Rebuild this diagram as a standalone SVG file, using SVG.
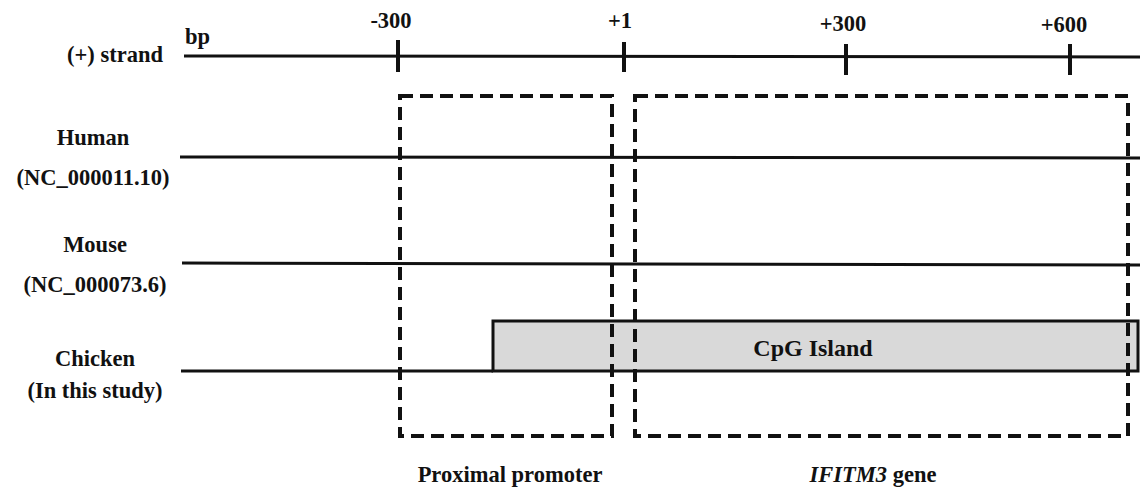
<svg xmlns="http://www.w3.org/2000/svg" width="1140" height="490" viewBox="0 0 1140 490">
<style>
text{font-family:"Liberation Serif","Times New Roman",serif;font-weight:bold;font-size:22.5px;fill:#111}
.c{text-anchor:middle}
.ln{stroke:#111;stroke-width:3;fill:none}
.tk{stroke:#111;stroke-width:4}
.dash{stroke:#111;stroke-width:4;fill:none;stroke-dasharray:13 7}
</style>
<rect width="1140" height="490" fill="#fff"/>
<g id="axis">
<line class="ln" x1="184" y1="56" x2="1140" y2="57"/>
<line class="tk" x1="398" y1="40" x2="398" y2="72"/>
<line class="tk" x1="624" y1="42" x2="624" y2="72"/>
<line class="tk" x1="846" y1="44" x2="846" y2="75"/>
<line class="tk" x1="1070" y1="44" x2="1070" y2="75"/>
<text x="185" y="44">bp</text>
<text class="c" x="391" y="28">-300</text>
<text class="c" x="620" y="28">+1</text>
<text class="c" x="843" y="31">+300</text>
<text class="c" x="1064" y="32">+600</text>
<text class="c" x="115" y="62">(+) strand</text>
</g>
<g id="human">
<line class="ln" x1="180" y1="157" x2="1140" y2="158"/>
<text class="c" x="93" y="145">Human</text>
<text class="c" x="93" y="185">(NC_000011.10)</text>
</g>
<g id="mouse">
<line class="ln" x1="182" y1="263" x2="1140" y2="265"/>
<text class="c" x="95" y="252">Mouse</text>
<text class="c" x="95" y="292">(NC_000073.6)</text>
</g>
<g id="chicken">
<line class="ln" x1="181" y1="371" x2="493" y2="371"/>
<text class="c" x="95" y="366">Chicken</text>
<text class="c" x="95" y="398">(In this study)</text>
</g>
<g id="cpg">
<rect x="493" y="321" width="645" height="50" fill="#d9d9d9" stroke="#111" stroke-width="3"/>
<text class="c" x="813" y="356" style="font-size:24px">CpG Island</text>
</g>
<g id="promoter">
<path class="dash" d="M400 96 H612 V436 H400 Z"/>
<text class="c" x="510" y="482">Proximal promoter</text>
</g>
<g id="gene">
<path class="dash" d="M635 96 H1128 V436 H635 Z"/>
<text class="c" x="873" y="482"><tspan font-style="italic">IFITM3</tspan> gene</text>
</g>
</svg>
